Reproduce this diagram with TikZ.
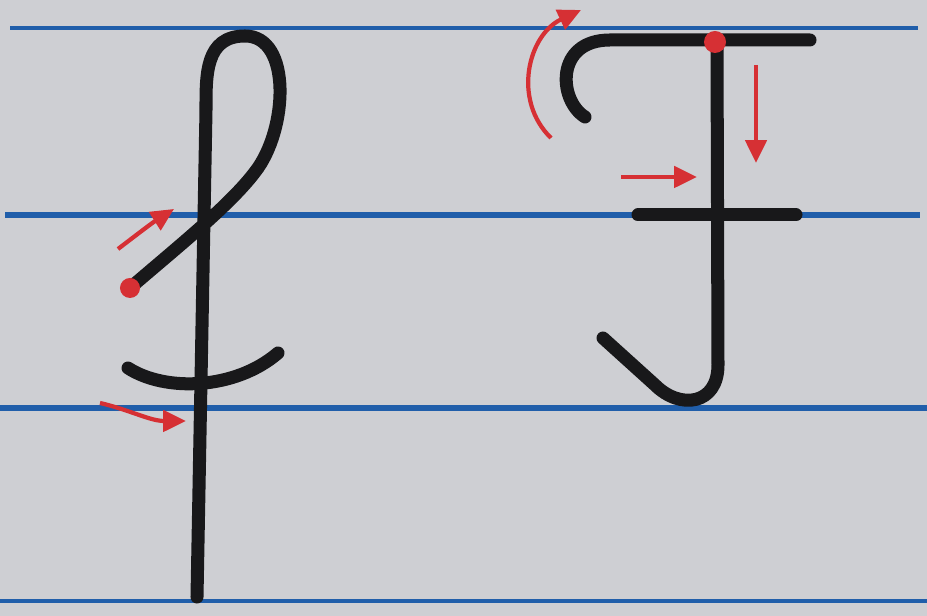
\documentclass[tikz,border=0pt]{standalone}
\usepackage{tikz}
\usetikzlibrary{arrows.meta}
\definecolor{paper}{RGB}{206,207,211}
\definecolor{ruleblue}{RGB}{32,94,170}
\definecolor{inkblack}{RGB}{24,24,26}
\definecolor{guidered}{RGB}{214,48,52}
\tikzset{
  ink/.style={inkblack, line width=3.7pt, line cap=round, line join=round},
  ruling/.style={ruleblue, line width=1.5pt},
  guide/.style={guidered, line width=1.2pt, -{Triangle[length=6.5pt,width=6pt]}},
  startdot/.style={fill=guidered}
}

\begin{document}
\begin{tikzpicture}[x=0.01cm, y=-0.01cm]

  % Paper
  \fill[paper] (0,0) rectangle (927,616);
  \useasboundingbox (0,0) rectangle (927,616);

  % Ruled lines
  \draw[ruling, line width=1.1pt] (10,28) -- (918,28);
  \draw[ruling, line width=1.7pt] (5,215) -- (920,215);
  \draw[ruling, line width=1.7pt] (0,408) -- (927,408);
  \draw[ruling, line width=1.4pt] (0,601) -- (927,601);

  % === Cursive f ===
  % Loop and stem
  \draw[ink] (130,288) .. controls (180,245) and (230,205) .. (255,172)
    .. controls (288,130) and (292,36) .. (245,36)
    .. controls (205,36) and (206,75) .. (206,110) -- (197,597);
  % Crossing stroke
  \draw[ink] (128,368) .. controls (165,392) and (235,390) .. (278,353);
  % Start point and direction
  \fill[startdot] (130,288) circle[radius=0.1cm];
  \draw[guide] (118,249) .. controls (135,236) and (152,223) .. (174,209);
  \draw[guide] (100,403) .. controls (130,410) and (150,421) .. (186,421);

  % === Printed F ===
  % Hook and top bar
  \draw[ink] (585,117) .. controls (558,100) and (555,40) .. (610,40) -- (810,40);
  % Stem with tail
  \draw[ink] (717,42) -- (718,365) .. controls (718,405) and (680,410) .. (655,385)
    -- (603,338);
  % Middle bar
  \draw[ink] (638,215) -- (796,215);
  % Start point and direction
  \fill[startdot] (715,42) circle[radius=0.11cm];
  \draw[guide] (551,138) .. controls (512,100) and (528,35) .. (581,10);
  \draw[guide] (756,65) -- (756,163);
  \draw[guide] (621,177) -- (697,177);

\end{tikzpicture}
\end{document}
